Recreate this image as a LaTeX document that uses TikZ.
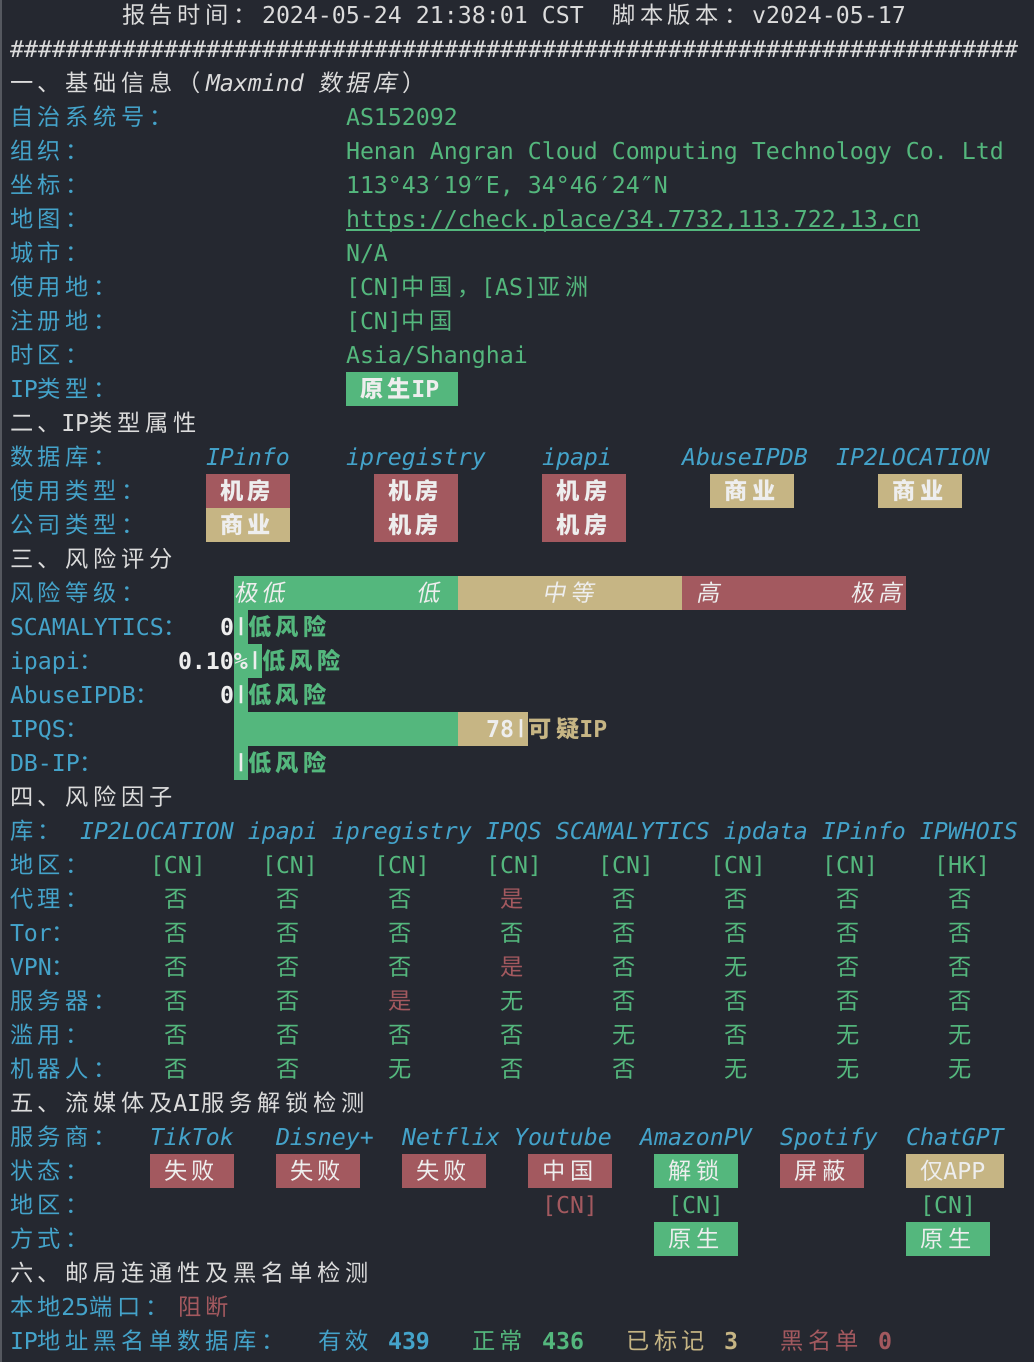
\documentclass[tikz,border=0pt]{standalone}
\usepackage{fontspec}
\usepackage{graphicx}
\setmainfont{DejaVu Sans Mono}[ItalicFont={DejaVu Sans Mono Oblique},BoldFont={DejaVu Sans Mono Bold},BoldItalicFont={DejaVu Sans Mono Bold Oblique}]
\newfontfamily\zh{Noto Sans CJK SC}[LetterSpace=20.43]
\newfontfamily\zhsl{Noto Sans CJK SC}[LetterSpace=20.43,FakeSlant=0.2]
\newcommand\termsz{\fontsize{23.25}{34}\selectfont}
\newcommand\sbar{\raisebox{0.18em}{\scalebox{1}[0.78]{|}}}
\newcommand\txvno{否}
\newcommand\txvyes{是}
\newcommand\txvnone{无}
\definecolor{bgc}{HTML}{252830}
\definecolor{edgec}{HTML}{55585F}
\definecolor{fgc}{HTML}{DCDCDC}
\definecolor{cyanc}{HTML}{44A3CA}
\definecolor{grnc}{HTML}{54B77D}
\definecolor{redc}{HTML}{A3595F}
\definecolor{tanc}{HTML}{C6B584}
\definecolor{boxfg}{HTML}{EEEEEE}
\frenchspacing

\begin{document}
\begin{tikzpicture}[x=14pt,y=-34pt,shift={(10pt,-23.5pt)},font=\termsz,
  txt/.style={anchor=base west,inner sep=0pt,outer sep=0pt},
  hd/.style={txt,text=fgc},
  lbl/.style={txt,text=cyanc},
  val/.style={txt,text=grnc},
  bad/.style={txt,text=redc},
  warn/.style={txt,text=tanc},
  svc/.style={txt,text=cyanc,font=\termsz\itshape},
  bx/.style={txt,text=boxfg,font=\termsz\bfseries},
  bxr/.style={txt,text=boxfg},
  num/.style={txt,text=boxfg,font=\termsz\bfseries},
  vno/.style={txt,text=grnc},
  vyes/.style={txt,text=redc},
  vnone/.style={txt,text=grnc}]
\fill[bgc] (-10pt,23.5pt) rectangle (1024pt,-1338.5pt);
\fill[edgec] (-10pt,23.5pt) rectangle (-8pt,-1338.5pt);
% header
\node[hd] (rtime) at (8,0) {\zh 报告时间：};
\node[hd] (rtimev) at (18,0) {2024-05-24 21:38:01 CST};
\node[hd] (ver) at (43,0) {\zh 脚本版本：};
\node[hd] (verv) at (53,0) {v2024-05-17};
\foreach \i in {0,...,71} \node[hd] (hash\i) at (\i,1) {\#};
% basic info
\node[hd] (sec1) at (0,2) {\zh 一、基础信息（};
\node[hd,font=\termsz\itshape] (sec1m) at (14,2) {Maxmind};
\node[hd] (sec1d) at (22,2) {\zhsl 数据库};
\node[hd] (sec1e) at (28,2) {\zh ）};
\foreach \rw/\lb/\vl in {3/自治系统号：/AS152092, 4/组织：/{Henan Angran Cloud Computing Technology Co. Ltd}, 5/坐标：/{113°43′19″E, 34°46′24″N}, 6/地图：/{https://check.place/34.7732,113.722,13,cn}, 7/城市：/{N/A}, 8/使用地：/{[CN]{\zh 中国，}[AS]{\zh 亚洲}}, 9/注册地：/{[CN]{\zh 中国}}, 10/时区：/{Asia/Shanghai}}
  {\node[lbl] (key\rw) at (0,\rw) {\zh\lb};
   \node[val] (val\rw) at (24,\rw) {\vl};}
\draw[grnc,line width=1.6pt] ([yshift=-2.5pt]val6.base west) -- ([yshift=-2.5pt]val6.base east);
\node[lbl] (key11) at (0,11) {IP{\zh 类型：}};
\fill[grnc] (24,10.25) rectangle (32,11.25);
\node[bx] (iptype) at (25,11) {{\zh 原生}IP};
% ip type
\node[hd] (sec2) at (0,12) {{\zh 二、}IP{\zh 类型属性}};
\node[lbl] (key13) at (0,13) {\zh 数据库：};
\foreach \cl/\nm in {14/IPinfo,24/ipregistry,38/ipapi,48/AbuseIPDB,59/IP2LOCATION}
  \node[svc] (db\cl) at (\cl,13) {\nm};
\node[lbl] (key14) at (0,14) {\zh 使用类型：};
\foreach \cl/\bc/\tx in {14/redc/机房,26/redc/机房,38/redc/机房,50/tanc/商业,62/tanc/商业}
  {\fill[\bc] (\cl,13.25) rectangle ({\cl+6},14.25);
   \node[bx] (use\cl) at ({\cl+1},14) {\zh\tx};}
\node[lbl] (key15) at (0,15) {\zh 公司类型：};
\foreach \cl/\bc/\tx in {14/tanc/商业,26/redc/机房,38/redc/机房}
  {\fill[\bc] (\cl,14.25) rectangle ({\cl+6},15.25);
   \node[bx] (corp\cl) at ({\cl+1},15) {\zh\tx};}
% risk score
\node[hd] (sec3) at (0,16) {\zh 三、风险评分};
\node[lbl] (key17) at (0,17) {\zh 风险等级：};
\fill[grnc] (16,16.25) rectangle (32,17.25);
\fill[tanc] (32,16.25) rectangle (48,17.25);
\fill[redc] (48,16.25) rectangle (64,17.25);
\foreach \cl/\tx in {16/极低,29/低,38/中等,49/高,60/极高}
  \node[bxr] (lvl\cl) at (\cl,17) {\zhsl\tx};
\fill[grnc] (16,17.25) rectangle (17,18.25);
\fill[grnc] (16,18.25) rectangle (18,19.25);
\fill[grnc] (16,19.25) rectangle (17,20.25);
\fill[grnc] (16,20.25) rectangle (32,21.25);
\fill[tanc] (32,20.25) rectangle (37,21.25);
\fill[grnc] (16,21.25) rectangle (17,22.25);
\node[lbl] (key18) at (0,18) {SCAMALYTICS{\zh ：}};
\node[num] (sc18) at (15,18) {0};
\node[num] (bar18) at (16,18) {\sbar};
\node[val,font=\termsz\bfseries] (rk18) at (17,18) {\zh 低风险};
\node[lbl] (key19) at (0,19) {ipapi{\zh ：}};
\node[num] (sc19) at (12,19) {0.10\%};
\node[num] (bar19) at (17,19) {\sbar};
\node[val,font=\termsz\bfseries] (rk19) at (18,19) {\zh 低风险};
\node[lbl] (key20) at (0,20) {AbuseIPDB{\zh ：}};
\node[num] (sc20) at (15,20) {0};
\node[num] (bar20) at (16,20) {\sbar};
\node[val,font=\termsz\bfseries] (rk20) at (17,20) {\zh 低风险};
\node[lbl] (key21) at (0,21) {IPQS{\zh ：}};
\node[num] (sc21) at (34,21) {78};
\node[num] (bar21) at (36,21) {\sbar};
\node[warn,font=\termsz\bfseries] (rk21) at (37,21) {{\zh 可疑}IP};
\node[lbl] (key22) at (0,22) {DB-IP{\zh ：}};
\node[num] (bar22) at (16,22) {\sbar};
\node[val,font=\termsz\bfseries] (rk22) at (17,22) {\zh 低风险};
% risk factors
\node[hd] (sec4) at (0,23) {\zh 四、风险因子};
\node[lbl] (key24) at (0,24) {\zh 库：};
\node[svc] (libs) at (5,24) {IP2LOCATION ipapi ipregistry IPQS SCAMALYTICS ipdata IPinfo IPWHOIS};
\node[lbl] (key25) at (0,25) {\zh 地区：};
\foreach \i in {0,...,6} \node[val] (reg\i) at ({10+8*\i},25) {[CN]};
\node[val] (reg7) at (66,25) {[HK]};
\foreach \rw/\lb/\vals in {26/{{\zh 代理：}}/{vno,vno,vno,vyes,vno,vno,vno,vno},
    27/{Tor{\zh ：}}/{vno,vno,vno,vno,vno,vno,vno,vno},
    28/{VPN{\zh ：}}/{vno,vno,vno,vyes,vno,vnone,vno,vno},
    29/{{\zh 服务器：}}/{vno,vno,vyes,vnone,vno,vno,vno,vno},
    30/{{\zh 滥用：}}/{vno,vno,vno,vno,vnone,vno,vnone,vnone},
    31/{{\zh 机器人：}}/{vno,vno,vnone,vno,vno,vnone,vnone,vnone}}
  {\node[lbl] (key\rw) at (0,\rw) {\lb};
   \foreach \vl [count=\i from 0] in \vals
     \node[\vl] (f\rw-\i) at ({11+8*\i},\rw) {\zh\csname tx\vl\endcsname};}
% streaming
\node[hd] (sec5) at (0,32) {{\zh 五、流媒体及}AI{\zh 服务解锁检测}};
\node[lbl] (key33) at (0,33) {\zh 服务商：};
\foreach \cl/\nm in {10/TikTok,19/Disney+,28/Netflix,36/Youtube,45/AmazonPV,55/Spotify,64/ChatGPT}
  \node[svc] (sv\cl) at (\cl,33) {\nm};
\node[lbl] (key34) at (0,34) {\zh 状态：};
\foreach \cl/\bc/\tx in {10/redc/失败,19/redc/失败,28/redc/失败,37/redc/中国,46/grnc/解锁,55/redc/屏蔽}
  {\fill[\bc] (\cl,33.25) rectangle ({\cl+6},34.25);
   \node[bxr] (st\cl) at ({\cl+1},34) {\zh\tx};}
\fill[tanc] (64,33.25) rectangle (71,34.25);
\node[bxr] (st64) at (65,34) {{\zh 仅}APP};
\node[lbl] (key35) at (0,35) {\zh 地区：};
\node[bad] (ar38) at (38,35) {[CN]};
\node[val] (ar47) at (47,35) {[CN]};
\node[val] (ar65) at (65,35) {[CN]};
\node[lbl] (key36) at (0,36) {\zh 方式：};
\foreach \cl in {46,64}
  {\fill[grnc] (\cl,35.25) rectangle ({\cl+6},36.25);
   \node[bxr] (way\cl) at ({\cl+1},36) {\zh 原生};}
% mail
\node[hd] (sec6) at (0,37) {\zh 六、邮局连通性及黑名单检测};
\node[lbl] (key38) at (0,38) {{\zh 本地}25{\zh 端口：}};
\node[bad] (p25) at (12,38) {\zh 阻断};
\node[lbl] (key39) at (0,39) {IP{\zh 地址黑名单数据库：}};
\node[lbl] (bl1) at (22,39) {\zh 有效};
\node[lbl,font=\termsz\bfseries] (bl1n) at (27,39) {439};
\node[val] (bl2) at (33,39) {\zh 正常};
\node[val,font=\termsz\bfseries] (bl2n) at (38,39) {436};
\node[warn] (bl3) at (44,39) {\zh 已标记};
\node[warn,font=\termsz\bfseries] (bl3n) at (51,39) {3};
\node[bad] (bl4) at (55,39) {\zh 黑名单};
\node[bad,font=\termsz\bfseries] (bl4n) at (62,39) {0};
\end{tikzpicture}
\end{document}
